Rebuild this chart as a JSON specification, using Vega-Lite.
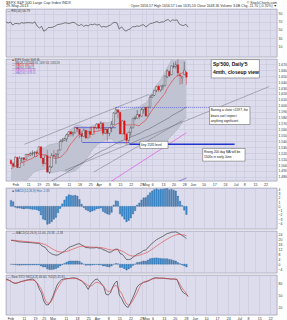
{
"$schema": "https://vega.github.io/schema/vega-lite/v6.json",
"padding": {"left": 4, "right": 0, "top": 0, "bottom": 0},
"background": "#ffffff",
"spacing": 0,
"config": {
  "view": {"fill": "#dcdcec", "stroke": "#8c8ca4", "strokeWidth": 0.6},
  "font": "Liberation Sans",
  "axis": {"labelFontSize": 3.4, "labelColor": "#333333", "ticks": false, "domain": false, "gridColor": "#c4c4d8", "gridWidth": 0.5, "labelPadding": 1},
  "concat": {"spacing": 0}
},
"datasets": {
"px": [
{"i":0,"d":"2013-01-30","o":1507.8,"h":1509.9,"l":1501.0,"c":1502.0,"ma":1493.5,"bu":1503,"bl":1455,"m50":1438,"rsi":70,"mh":1.4,"m":19.6,"s":19.7,"h2":-0.1,"k":90,"sd":88},
{"i":1,"d":"2013-01-31","o":1502.0,"h":1504.2,"l":1496.8,"c":1498.1,"ma":1496.0,"bu":1504.5,"bl":1456.5,"m50":1440,"rsi":67,"mh":1.1,"m":19.3,"s":19.6,"h2":-0.3,"k":88,"sd":87},
{"i":2,"d":"2013-02-01","o":1498.1,"h":1514.4,"l":1498.1,"c":1513.2,"ma":1499.3,"bu":1506.5,"bl":1458.5,"m50":1441,"rsi":70,"mh":-0.2,"m":19.1,"s":19.5,"h2":-0.4,"k":85,"sd":85},
{"i":3,"d":"2013-02-04","o":1513.2,"h":1513.2,"l":1495.0,"c":1495.7,"ma":1500.2,"bu":1507,"bl":1461,"m50":1443,"rsi":62,"mh":-0.4,"m":18.6,"s":19.3,"h2":-0.7,"k":81,"sd":82},
{"i":4,"d":"2013-02-05","o":1495.7,"h":1514.9,"l":1495.7,"c":1511.3,"ma":1502.1,"bu":1508,"bl":1464,"m50":1444,"rsi":66,"mh":-0.4,"m":18.3,"s":19.1,"h2":-0.8,"k":79,"sd":80},
{"i":5,"d":"2013-02-06","o":1511.3,"h":1512.5,"l":1504.7,"c":1512.1,"ma":1503.8,"bu":1509,"bl":1467,"m50":1446,"rsi":66,"mh":-0.5,"m":18.2,"s":18.9,"h2":-0.7,"k":80,"sd":80},
{"i":6,"d":"2013-02-07","o":1512.1,"h":1512.9,"l":1498.5,"c":1509.4,"ma":1505.3,"bu":1510,"bl":1470,"m50":1448,"rsi":65,"mh":-0.6,"m":18.0,"s":18.7,"h2":-0.7,"k":82,"sd":82},
{"i":7,"d":"2013-02-08","o":1509.4,"h":1518.3,"l":1509.4,"c":1517.9,"ma":1506.8,"bu":1512,"bl":1474,"m50":1450,"rsi":68,"mh":-0.5,"m":18.0,"s":18.6,"h2":-0.6,"k":84,"sd":84},
{"i":8,"d":"2013-02-11","o":1517.9,"h":1518.3,"l":1513.6,"c":1517.0,"ma":1508.5,"bu":1514,"bl":1478,"m50":1451,"rsi":67,"mh":-0.5,"m":17.8,"s":18.4,"h2":-0.6,"k":85,"sd":85},
{"i":9,"d":"2013-02-12","o":1517.0,"h":1522.3,"l":1515.6,"c":1519.4,"ma":1509.6,"bu":1517,"bl":1481,"m50":1453,"rsi":68,"mh":-0.6,"m":17.7,"s":18.3,"h2":-0.6,"k":87,"sd":86},
{"i":10,"d":"2013-02-13","o":1519.4,"h":1524.7,"l":1515.9,"c":1520.3,"ma":1511.4,"bu":1519.5,"bl":1485.5,"m50":1455,"rsi":68,"mh":-0.7,"m":17.5,"s":18.1,"h2":-0.6,"k":88,"sd":87},
{"i":11,"d":"2013-02-14","o":1520.3,"h":1523.1,"l":1514.0,"c":1521.4,"ma":1513.8,"bu":1521.9,"bl":1487.9,"m50":1457,"rsi":68,"mh":-0.7,"m":17.3,"s":17.9,"h2":-0.6,"k":89,"sd":87},
{"i":12,"d":"2013-02-15","o":1521.4,"h":1524.2,"l":1514.1,"c":1519.8,"ma":1514.4,"bu":1523.8,"bl":1489.8,"m50":1459,"rsi":67,"mh":-0.8,"m":17.1,"s":17.7,"h2":-0.6,"k":90,"sd":87},
{"i":13,"d":"2013-02-19","o":1519.8,"h":1530.9,"l":1519.8,"c":1530.9,"ma":1518.0,"bu":1527.1,"bl":1491.1,"m50":1461,"rsi":70,"mh":-1.0,"m":17.1,"s":17.6,"h2":-0.5,"k":86,"sd":86},
{"i":14,"d":"2013-02-20","o":1530.9,"h":1530.9,"l":1511.4,"c":1511.9,"ma":1518.0,"bu":1528.1,"bl":1492.1,"m50":1463,"rsi":60,"mh":-2.0,"m":15.8,"s":17.2,"h2":-1.4,"k":79,"sd":80},
{"i":15,"d":"2013-02-21","o":1511.9,"h":1511.9,"l":1497.3,"c":1502.4,"ma":1517.0,"bu":1528.4,"bl":1492.4,"m50":1465,"rsi":55,"mh":-3.0,"m":14.5,"s":16.7,"h2":-2.2,"k":65,"sd":72},
{"i":16,"d":"2013-02-22","o":1502.4,"h":1515.6,"l":1502.4,"c":1515.6,"ma":1517.7,"bu":1529.5,"bl":1493.5,"m50":1467,"rsi":59,"mh":-3.2,"m":13.8,"s":16.1,"h2":-2.3,"k":55,"sd":63},
{"i":17,"d":"2013-02-25","o":1515.6,"h":1525.8,"l":1487.9,"c":1487.9,"ma":1514.7,"bu":1532.7,"bl":1488.7,"m50":1469,"rsi":47,"mh":-4.2,"m":11.3,"s":15.1,"h2":-3.8,"k":35,"sd":48},
{"i":18,"d":"2013-02-26","o":1487.9,"h":1498.9,"l":1485.0,"c":1496.9,"ma":1512.7,"bu":1534.6,"bl":1486.6,"m50":1471,"rsi":50,"mh":-4.0,"m":9.6,"s":14.0,"h2":-4.4,"k":26,"sd":33},
{"i":19,"d":"2013-02-27","o":1496.9,"h":1520.1,"l":1494.9,"c":1516.0,"ma":1512.3,"bu":1535.0,"bl":1487.0,"m50":1473,"rsi":56,"mh":-3.6,"m":8.5,"s":12.9,"h2":-4.4,"k":25,"sd":29},
{"i":20,"d":"2013-02-28","o":1516.0,"h":1525.3,"l":1514.5,"c":1514.7,"ma":1511.8,"bu":1535.6,"bl":1487.6,"m50":1475,"rsi":56,"mh":-3.0,"m":7.8,"s":11.9,"h2":-4.1,"k":33,"sd":31},
{"i":21,"d":"2013-03-01","o":1514.7,"h":1520.0,"l":1501.5,"c":1518.2,"ma":1511.4,"bu":1536.6,"bl":1488.6,"m50":1477,"rsi":57,"mh":-2.6,"m":7.4,"s":11.0,"h2":-3.6,"k":45,"sd":40},
{"i":22,"d":"2013-03-04","o":1518.2,"h":1525.3,"l":1512.3,"c":1525.2,"ma":1512.0,"bu":1537.2,"bl":1489.2,"m50":1479,"rsi":59,"mh":-1.5,"m":7.6,"s":10.3,"h2":-2.7,"k":60,"sd":55},
{"i":23,"d":"2013-03-05","o":1525.2,"h":1543.5,"l":1525.2,"c":1539.8,"ma":1512.9,"bu":1540.4,"bl":1490.4,"m50":1481,"rsi":63,"mh":-0.5,"m":8.6,"s":10.0,"h2":-1.4,"k":75,"sd":65},
{"i":24,"d":"2013-03-06","o":1539.8,"h":1545.3,"l":1538.1,"c":1541.5,"ma":1515.8,"bu":1543.9,"bl":1489.9,"m50":1483,"rsi":64,"mh":0.6,"m":9.5,"s":9.9,"h2":-0.4,"k":83,"sd":75},
{"i":25,"d":"2013-03-07","o":1541.5,"h":1545.8,"l":1541.5,"c":1544.3,"ma":1520.0,"bu":1547.5,"bl":1489.5,"m50":1485,"rsi":65,"mh":1.5,"m":10.7,"s":10.1,"h2":0.6,"k":88,"sd":83},
{"i":26,"d":"2013-03-08","o":1544.3,"h":1552.5,"l":1539.2,"c":1551.2,"ma":1523.6,"bu":1552.6,"bl":1488.6,"m50":1487,"rsi":67,"mh":2.3,"m":12.2,"s":10.5,"h2":1.7,"k":90,"sd":88},
{"i":27,"d":"2013-03-11","o":1551.2,"h":1556.3,"l":1547.4,"c":1556.2,"ma":1530.4,"bu":1557.5,"bl":1487.5,"m50":1490,"rsi":68,"mh":2.7,"m":13.6,"s":11.1,"h2":2.5,"k":91,"sd":90},
{"i":28,"d":"2013-03-12","o":1556.2,"h":1556.8,"l":1548.2,"c":1552.5,"ma":1536.0,"bu":1560.3,"bl":1488.3,"m50":1492,"rsi":66,"mh":2.6,"m":14.5,"s":11.8,"h2":2.7,"k":91,"sd":91},
{"i":29,"d":"2013-03-13","o":1552.5,"h":1556.4,"l":1548.3,"c":1554.5,"ma":1539.8,"bu":1563.1,"bl":1489.1,"m50":1494,"rsi":67,"mh":2.5,"m":15.0,"s":12.4,"h2":2.6,"k":92,"sd":91},
{"i":30,"d":"2013-03-14","o":1554.5,"h":1563.3,"l":1554.5,"c":1563.2,"ma":1544.7,"bu":1566.2,"bl":1490.2,"m50":1497,"rsi":69,"mh":2.6,"m":15.8,"s":13.1,"h2":2.7,"k":93,"sd":91},
{"i":31,"d":"2013-03-15","o":1563.2,"h":1563.6,"l":1555.7,"c":1560.7,"ma":1548.9,"bu":1567.2,"bl":1493.2,"m50":1499,"rsi":68,"mh":2.4,"m":16.5,"s":13.8,"h2":2.7,"k":93,"sd":91},
{"i":32,"d":"2013-03-18","o":1560.7,"h":1560.7,"l":1545.1,"c":1552.1,"ma":1551.6,"bu":1566.8,"bl":1496.8,"m50":1501,"rsi":63,"mh":1.6,"m":16.8,"s":14.4,"h2":2.4,"k":91,"sd":91},
{"i":33,"d":"2013-03-19","o":1552.1,"h":1557.3,"l":1538.6,"c":1548.3,"ma":1552.5,"bu":1565.7,"bl":1499.7,"m50":1503,"rsi":61,"mh":0.5,"m":15.8,"s":14.7,"h2":1.1,"k":88,"sd":89},
{"i":34,"d":"2013-03-20","o":1548.3,"h":1561.6,"l":1548.3,"c":1558.7,"ma":1554.2,"bu":1565.0,"bl":1505.0,"m50":1505,"rsi":64,"mh":-0.3,"m":14.7,"s":14.7,"h2":0.0,"k":85,"sd":86},
{"i":35,"d":"2013-03-21","o":1558.7,"h":1558.7,"l":1543.6,"c":1545.8,"ma":1554.3,"bu":1565.2,"bl":1509.2,"m50":1508,"rsi":59,"mh":-0.8,"m":13.6,"s":14.5,"h2":-0.9,"k":80,"sd":82},
{"i":36,"d":"2013-03-22","o":1545.8,"h":1556.9,"l":1545.8,"c":1556.9,"ma":1554.9,"bu":1564.2,"bl":1514.2,"m50":1510,"rsi":62,"mh":-1.0,"m":13.6,"s":14.3,"h2":-0.7,"k":73,"sd":78},
{"i":37,"d":"2013-03-25","o":1556.9,"h":1564.9,"l":1546.2,"c":1551.7,"ma":1554.4,"bu":1564.4,"bl":1520.4,"m50":1512,"rsi":60,"mh":-1.3,"m":13.3,"s":14.1,"h2":-0.8,"k":64,"sd":73},
{"i":38,"d":"2013-03-26","o":1551.7,"h":1564.0,"l":1551.7,"c":1563.8,"ma":1555.6,"bu":1565.8,"bl":1525.8,"m50":1514,"rsi":64,"mh":-1.1,"m":13.4,"s":14.0,"h2":-0.6,"k":75,"sd":72},
{"i":39,"d":"2013-03-27","o":1563.8,"h":1564.1,"l":1551.5,"c":1562.9,"ma":1556.4,"bu":1567.1,"bl":1529.1,"m50":1517,"rsi":63,"mh":-0.9,"m":13.4,"s":13.9,"h2":-0.5,"k":82,"sd":75},
{"i":40,"d":"2013-03-28","o":1562.9,"h":1570.3,"l":1561.1,"c":1569.2,"ma":1557.0,"bu":1568.8,"bl":1532.8,"m50":1519,"rsi":65,"mh":-0.6,"m":13.7,"s":13.9,"h2":-0.2,"k":88,"sd":80},
{"i":41,"d":"2013-04-01","o":1569.2,"h":1570.6,"l":1558.5,"c":1562.2,"ma":1557.2,"bu":1570.0,"bl":1536.0,"m50":1521,"rsi":62,"mh":-0.5,"m":13.1,"s":13.7,"h2":-0.6,"k":90,"sd":82},
{"i":42,"d":"2013-04-02","o":1562.2,"h":1573.7,"l":1562.2,"c":1570.3,"ma":1559.0,"bu":1572.3,"bl":1538.3,"m50":1523,"rsi":64,"mh":-0.4,"m":13.1,"s":13.6,"h2":-0.5,"k":85,"sd":80},
{"i":43,"d":"2013-04-03","o":1570.3,"h":1571.5,"l":1549.8,"c":1553.7,"ma":1559.5,"bu":1572.0,"bl":1540.0,"m50":1525,"rsi":57,"mh":-1.2,"m":11.9,"s":13.3,"h2":-1.4,"k":78,"sd":76},
{"i":44,"d":"2013-04-04","o":1553.7,"h":1562.6,"l":1552.5,"c":1560.0,"ma":1559.7,"bu":1571.9,"bl":1541.9,"m50":1526,"rsi":59,"mh":-1.5,"m":11.4,"s":12.9,"h2":-1.5,"k":71,"sd":71,"pk":1466},
{"i":45,"d":"2013-04-05","o":1560.0,"h":1560.0,"l":1539.5,"c":1553.3,"ma":1560.4,"bu":1571.4,"bl":1543.4,"m50":1528,"rsi":57,"mh":-1.8,"m":10.4,"s":12.4,"h2":-2.0,"k":52,"sd":63,"pk":1468},
{"i":46,"d":"2013-04-08","o":1553.3,"h":1563.1,"l":1548.6,"c":1563.1,"ma":1561.0,"bu":1572.0,"bl":1544.0,"m50":1530,"rsi":60,"mh":-1.9,"m":9.7,"s":11.9,"h2":-2.2,"k":50,"sd":58,"pk":1470.5},
{"i":47,"d":"2013-04-09","o":1563.1,"h":1573.9,"l":1555.4,"c":1568.6,"ma":1562.7,"bu":1573.6,"bl":1543.6,"m50":1532,"rsi":62,"mh":-1.4,"m":10.2,"s":11.6,"h2":-1.4,"k":55,"sd":60,"pk":1473},
{"i":48,"d":"2013-04-10","o":1568.6,"h":1589.1,"l":1568.6,"c":1587.7,"ma":1565.1,"bu":1580.3,"bl":1540.3,"m50":1534,"rsi":67,"mh":0.3,"m":11.5,"s":11.6,"h2":-0.1,"k":70,"sd":67,"pk":1475},
{"i":49,"d":"2013-04-11","o":1587.7,"h":1597.4,"l":1586.2,"c":1593.4,"ma":1568.2,"bu":1587.3,"bl":1537.3,"m50":1536,"rsi":69,"mh":1.3,"m":12.4,"s":11.8,"h2":0.6,"k":80,"sd":74,"pk":1477.5},
{"i":50,"d":"2013-04-12","o":1593.4,"h":1593.4,"l":1579.0,"c":1588.9,"ma":1570.1,"bu":1591.6,"bl":1535.6,"m50":1538,"rsi":67,"mh":1.2,"m":12.2,"s":11.9,"h2":0.3,"k":85,"sd":72,"pk":1480},
{"i":51,"d":"2013-04-15","o":1588.9,"h":1588.9,"l":1552.3,"c":1552.4,"ma":1569.1,"bu":1591.2,"bl":1535.2,"m50":1540,"rsi":52,"mh":-1.8,"m":8.7,"s":11.3,"h2":-2.6,"k":50,"sd":62,"pk":1482},
{"i":52,"d":"2013-04-16","o":1552.4,"h":1575.4,"l":1552.4,"c":1574.6,"ma":1569.6,"bu":1592.3,"bl":1536.3,"m50":1541,"rsi":58,"mh":-2.3,"m":8.1,"s":10.7,"h2":-2.6,"k":42,"sd":55,"pk":1484.5},
{"i":53,"d":"2013-04-17","o":1574.6,"h":1574.6,"l":1543.7,"c":1552.0,"ma":1569.4,"bu":1592.5,"bl":1536.5,"m50":1543,"rsi":51,"mh":-3.0,"m":6.1,"s":9.8,"h2":-3.7,"k":30,"sd":42,"pk":1487},
{"i":54,"d":"2013-04-18","o":1552.0,"h":1554.4,"l":1536.0,"c":1541.6,"ma":1567.6,"bu":1593.6,"bl":1533.6,"m50":1544,"rsi":47,"mh":-3.6,"m":3.8,"s":8.6,"h2":-4.8,"k":22,"sd":30,"pk":1489},
{"i":55,"d":"2013-04-19","o":1541.6,"h":1555.9,"l":1539.4,"c":1555.3,"ma":1567.8,"bu":1594.1,"bl":1534.1,"m50":1546,"rsi":51,"mh":-3.3,"m":3.7,"s":7.6,"h2":-3.9,"k":19,"sd":25,"pk":1491.5},
{"i":56,"d":"2013-04-22","o":1555.3,"h":1565.6,"l":1548.2,"c":1562.5,"ma":1567.7,"bu":1594.4,"bl":1534.4,"m50":1547,"rsi":53,"mh":-2.7,"m":4.2,"s":6.9,"h2":-2.7,"k":30,"sd":27,"pk":1494},
{"i":57,"d":"2013-04-23","o":1562.5,"h":1579.6,"l":1562.5,"c":1578.8,"ma":1568.7,"bu":1595.7,"bl":1535.7,"m50":1549,"rsi":58,"mh":-1.8,"m":5.7,"s":6.7,"h2":-1.0,"k":42,"sd":35,"pk":1496},
{"i":58,"d":"2013-04-24","o":1578.8,"h":1583.0,"l":1575.8,"c":1579.3,"ma":1567.8,"bu":1596.5,"bl":1536.5,"m50":1550,"rsi":58,"mh":-1.0,"m":6.9,"s":6.7,"h2":0.2,"k":55,"sd":45,"pk":1498.5},
{"i":59,"d":"2013-04-25","o":1578.8,"h":1592.6,"l":1578.8,"c":1585.2,"ma":1567.0,"bu":1597.6,"bl":1537.6,"m50":1552,"rsi":60,"mh":0.3,"m":8.3,"s":7.0,"h2":1.3,"k":70,"sd":55,"pk":1501},
{"i":60,"d":"2013-04-26","o":1585.2,"h":1585.8,"l":1577.6,"c":1582.2,"ma":1566.3,"bu":1598.2,"bl":1538.2,"m50":1553,"rsi":59,"mh":0.8,"m":9.0,"s":7.4,"h2":1.6,"k":76,"sd":68,"pk":1503},
{"i":61,"d":"2013-04-29","o":1582.3,"h":1596.7,"l":1582.3,"c":1593.6,"ma":1570.5,"bu":1600.8,"bl":1538.8,"m50":1555,"rsi":62,"mh":1.5,"m":10.0,"s":7.9,"h2":2.1,"k":79,"sd":78,"pk":1505.5},
{"i":62,"d":"2013-04-30","o":1593.6,"h":1597.6,"l":1587.0,"c":1597.6,"ma":1572.8,"bu":1603.2,"bl":1539.2,"m50":1557,"rsi":63,"mh":2.0,"m":11.3,"s":8.6,"h2":2.7,"k":82,"sd":82,"pk":1508},
{"i":63,"d":"2013-05-01","o":1597.6,"h":1597.6,"l":1581.3,"c":1582.7,"ma":1575.8,"bu":1604.6,"bl":1540.6,"m50":1559,"rsi":57,"mh":2.1,"m":11.7,"s":9.2,"h2":2.5,"k":83,"sd":84,"pk":1510},
{"i":64,"d":"2013-05-02","o":1582.8,"h":1598.6,"l":1582.8,"c":1597.6,"ma":1581.4,"bu":1608.5,"bl":1540.5,"m50":1560,"rsi":62,"mh":2.6,"m":13.4,"s":10.0,"h2":3.4,"k":85,"sd":86,"pk":1512.5},
{"i":65,"d":"2013-05-03","o":1597.6,"h":1618.5,"l":1597.6,"c":1614.4,"ma":1587.3,"bu":1615.6,"bl":1539.6,"m50":1562,"rsi":66,"mh":3.2,"m":15.6,"s":11.1,"h2":4.5,"k":88,"sd":88,"pk":1515},
{"i":66,"d":"2013-05-06","o":1614.4,"h":1619.8,"l":1614.2,"c":1617.5,"ma":1592.8,"bu":1622.3,"bl":1538.3,"m50":1564,"rsi":67,"mh":3.6,"m":17.1,"s":12.3,"h2":4.8,"k":91,"sd":90,"pk":1517},
{"i":67,"d":"2013-05-07","o":1617.5,"h":1626.0,"l":1616.6,"c":1626.0,"ma":1597.6,"bu":1629.1,"bl":1537.1,"m50":1566,"rsi":69,"mh":3.9,"m":18.6,"s":13.6,"h2":5.0,"k":93,"sd":91,"pk":1519.5},
{"i":68,"d":"2013-05-08","o":1626.0,"h":1632.8,"l":1622.7,"c":1632.7,"ma":1603.0,"bu":1635.4,"bl":1535.4,"m50":1568,"rsi":71,"mh":4.1,"m":20.1,"s":14.9,"h2":5.2,"k":93,"sd":92,"pk":1522},
{"i":69,"d":"2013-05-09","o":1632.7,"h":1635.0,"l":1623.1,"c":1626.7,"ma":1607.1,"bu":1639.1,"bl":1535.1,"m50":1570,"rsi":68,"mh":3.9,"m":21.0,"s":16.1,"h2":4.9,"k":92,"sd":92,"pk":1524},
{"i":70,"d":"2013-05-10","o":1626.7,"h":1633.7,"l":1623.7,"c":1633.7,"ma":1612.3,"bu":1644.3,"bl":1534.3,"m50":1572,"rsi":70,"mh":4.0,"m":22.0,"s":17.3,"h2":4.7,"k":92,"sd":92,"pk":1526.5},
{"i":71,"d":"2013-05-13","o":1632.1,"h":1636.0,"l":1626.7,"c":1633.8,"ma":1616.3,"bu":1650.4,"bl":1536.4,"m50":1574,"rsi":70,"mh":4.0,"m":22.9,"s":18.4,"h2":4.5,"k":92,"sd":92,"pk":1529},
{"i":72,"d":"2013-05-14","o":1633.8,"h":1651.1,"l":1633.8,"c":1650.3,"ma":1621.5,"bu":1657.2,"bl":1537.2,"m50":1576,"rsi":74,"mh":4.1,"m":24.0,"s":19.5,"h2":4.5,"k":91,"sd":91,"pk":1531},
{"i":73,"d":"2013-05-15","o":1649.1,"h":1661.5,"l":1646.7,"c":1658.8,"ma":1629.2,"bu":1664.5,"bl":1540.5,"m50":1578,"rsi":76,"mh":4.2,"m":25.1,"s":20.6,"h2":4.5,"k":91,"sd":91,"pk":1533.5},
{"i":74,"d":"2013-05-16","o":1658.1,"h":1660.5,"l":1648.6,"c":1650.5,"ma":1634.4,"bu":1669.9,"bl":1545.9,"m50":1580,"rsi":71,"mh":3.9,"m":25.5,"s":21.6,"h2":3.9,"k":90,"sd":90,"pk":1536},
{"i":75,"d":"2013-05-17","o":1652.4,"h":1667.5,"l":1652.4,"c":1667.5,"ma":1639.8,"bu":1677.5,"bl":1549.5,"m50":1583,"rsi":75,"mh":4.0,"m":26.2,"s":22.5,"h2":3.7,"k":90,"sd":90,"pk":1538},
{"i":76,"d":"2013-05-20","o":1665.7,"h":1672.8,"l":1663.5,"c":1666.3,"ma":1644.6,"bu":1683.7,"bl":1553.7,"m50":1585,"rsi":74,"mh":3.8,"m":26.3,"s":23.3,"h2":3.0,"k":90,"sd":89,"pk":1540.5,"vl":1469},
{"i":77,"d":"2013-05-21","o":1666.2,"h":1674.9,"l":1662.7,"c":1669.2,"ma":1649.0,"bu":1689.3,"bl":1557.3,"m50":1587,"rsi":75,"mh":3.6,"m":26.5,"s":23.9,"h2":2.6,"k":89,"sd":88,"pk":1543,"vl":1470.5},
{"i":78,"d":"2013-05-22","o":1669.4,"h":1687.2,"l":1648.9,"c":1655.4,"ma":1651.2,"bu":1693.1,"bl":1561.1,"m50":1589,"rsi":65,"mh":2.4,"m":25.7,"s":24.3,"h2":1.4,"k":74,"sd":80,"pk":1545,"vl":1472},
{"i":79,"d":"2013-05-23","o":1651.6,"h":1655.5,"l":1635.5,"c":1650.5,"ma":1653.6,"bu":1694.4,"bl":1566.4,"m50":1591,"rsi":62,"mh":1.2,"m":24.8,"s":24.4,"h2":0.4,"k":62,"sd":70,"pk":1547.5,"vl":1473.5},
{"i":80,"d":"2013-05-24","o":1646.7,"h":1649.8,"l":1636.9,"c":1649.6,"ma":1655.2,"bu":1695.7,"bl":1571.7,"m50":1593,"rsi":61,"mh":0.2,"m":23.5,"s":24.2,"h2":-0.7,"k":55,"sd":62,"pk":1550,"vl":1475},
{"i":81,"d":"2013-05-28","o":1652.6,"h":1674.2,"l":1652.6,"c":1660.1,"ma":1657.8,"bu":1697.0,"bl":1577.0,"m50":1596,"rsi":64,"mh":-0.9,"m":22.5,"s":23.9,"h2":-1.4,"k":52,"sd":55,"pk":1552,"vl":1476.5},
{"i":82,"d":"2013-05-29","o":1656.6,"h":1656.6,"l":1635.4,"c":1648.4,"ma":1657.6,"bu":1697.6,"bl":1581.6,"m50":1598,"rsi":57,"mh":-1.9,"m":21.0,"s":23.3,"h2":-2.3,"k":47,"sd":46,"pk":1554.5,"vl":1478}
],
"ln": [
{"g":"t1","i":6.3,"p":1535},{"g":"t1","i":64.4,"p":1619},
{"g":"t2","i":25.2,"p":1491},{"g":"t2","i":120.7,"p":1632.5},
{"g":"t4","i":38.7,"p":1488},{"g":"t4","i":80,"p":1575},
{"g":"b1","i":29.7,"p":1563},{"g":"b1","i":49,"p":1563},
{"g":"b3","i":33.3,"p":1538},{"g":"b3","i":55.4,"p":1538},
{"g":"b2","i":49,"p":1597},{"g":"b2","i":92.8,"p":1597},
{"g":"b4","i":55.4,"p":1535},{"g":"b4","i":104.5,"p":1535}
],
"bx": [
{"b":1,"i":93.6,"i2":116.1,"p":1678,"p2":1647},
{"b":2,"i":92.8,"i2":111.7,"p":1598.6,"p2":1568.4},
{"b":3,"i":60.3,"i2":73.4,"p":1540,"p2":1528},
{"b":4,"i":89.6,"i2":109.4,"p":1528,"p2":1506.5}
],
"tx": [
{"pn":"rsi","grp":"hl","i":0,"p":118,"t":"$SPX S&P 500 Large Cap Index INDX"},
{"pn":"rsi","grp":"hl","i":0,"p":108.5,"t":"29-May-2013"},
{"pn":"rsi","grp":"hr","i":122,"p":118,"t":"© StockCharts.com"},
{"pn":"rsi","grp":"hr","i":122,"p":108.5,"t":"Open 1656.57  High 1656.57  Low 1635.53  Close 1648.36  Volume 3.6B  Chg -11.70 (-0.70%) ▼"},
{"pn":"rsi","grp":"lg","ck":"a","i":0.6,"p":97,"t":"— RSI(14) 56.79"},
{"pn":"main","grp":"b1","i":94.4,"p":1670.5,"t":"Sp'500, Daily'5"},
{"pn":"main","grp":"b1","i":94.4,"p":1656.5,"t":"4mth, closeup view"},
{"pn":"main","grp":"bs","i":93.4,"p":1592.5,"t":"Barring a close <1597, the"},
{"pn":"main","grp":"bs","i":93.4,"p":1583.5,"t":"bears can't expect"},
{"pn":"main","grp":"bs","i":93.4,"p":1574.5,"t":"anything significant."},
{"pn":"main","grp":"bs","i":60.9,"p":1534,"t":"key 1535 level"},
{"pn":"main","grp":"bs","i":90.2,"p":1521.5,"t":"Rising 200 day MA will be"},
{"pn":"main","grp":"bs","i":90.2,"p":1513,"t":"1500s in early June"},
{"pn":"main","grp":"lg","ck":"a","i":0.6,"p":1676.5,"t":"■ $SPX (Daily) 1648.36"},
{"pn":"main","grp":"lg","ck":"a","i":0.6,"p":1672.3,"t":"— BB(20,2.0) 1639.61, 1697.63, 1581.59"},
{"pn":"main","grp":"lg","ck":"r","i":0.6,"p":1668.1,"t":"— MA(10) 1657.58"},
{"pn":"main","grp":"lg","ck":"b","i":0.6,"p":1663.9,"t":"— MA(50) 1598.12"},
{"pn":"main","grp":"lg","ck":"m","i":0.6,"p":1659.7,"t":"— MA(100) 1554.48"},
{"pn":"main","grp":"lg","ck":"v","i":0.6,"p":1655.5,"t":"— MA(200) 1478.05"},
{"pn":"c","grp":"lg","ck":"c","i":0.6,"p":3.6,"t":"■ MACD(12,26,9) Hist -2.33"},
{"pn":"d","grp":"lg","ck":"a","i":0.6,"p":25.4,"t":"— MACD(12,26,9) 21.00, 23.33, -2.33"},
{"pn":"s","grp":"lg","ck":"a","i":0.6,"p":95,"t":"— Slow STO %K(14,3) 46.60, %D(3) 45.91"}
]
},
"vconcat": [
{
 "width": 271, "height": 48,
 "encoding": {"x": {"field": "i", "type": "quantitative", "scale": {"domain": [0, 122], "nice": false, "zero": false}, "axis": {"values": [2,8,13,17,21,27,32,37,41,46,51,56,61,63,66,71,76,81,85,90,95,100,105,109,114,119], "labels": false, "grid": true, "title": null}}},
 "layer": [
  {"data": {"values": [{"v": 70}, {"v": 30}]}, "mark": {"type": "rule", "color": "#8e8ea8", "strokeWidth": 0.8},
   "encoding": {"x": {"datum": 0}, "x2": {"datum": 122}, "y": {"field": "v", "type": "quantitative", "scale": {"domain": [-17, 102], "nice": false, "zero": false}, "axis": {"orient": "right", "values": [10,30,50,70,90], "grid": true, "title": null}}}},
  {"data": {"name": "px"}, "mark": {"type": "line", "color": "#333333", "strokeWidth": 0.6},
   "encoding": {"y": {"field": "rsi", "type": "quantitative", "scale": {"domain": [-17, 102], "nice": false, "zero": false}, "axis": {"orient": "right", "values": [10,30,50,70,90], "grid": true, "title": null}}}},
  {"data": {"name": "tx"}, "transform": [{"filter": "datum.pn == 'rsi' && datum.grp == 'hl'"}], "mark": {"type": "text", "align": "left", "baseline": "middle", "fontSize": 3.8, "color": "#333333", "clip": false},
   "encoding": {"y": {"field": "p", "type": "quantitative", "scale": {"domain": [-17, 102], "nice": false, "zero": false}, "axis": {"orient": "right", "values": [10,30,50,70,90], "grid": true, "title": null}}, "text": {"field": "t"}}},
  {"data": {"name": "tx"}, "transform": [{"filter": "datum.pn == 'rsi' && datum.grp == 'hr'"}], "mark": {"type": "text", "align": "right", "baseline": "middle", "fontSize": 3.5, "color": "#333333", "clip": false},
   "encoding": {"y": {"field": "p", "type": "quantitative", "scale": {"domain": [-17, 102], "nice": false, "zero": false}, "axis": {"orient": "right", "values": [10,30,50,70,90], "grid": true, "title": null}}, "text": {"field": "t"}}},
  {"data": {"name": "tx"}, "transform": [{"filter": "datum.pn == 'rsi' && datum.grp == 'lg'"}], "mark": {"type": "text", "align": "left", "baseline": "middle", "fontSize": 3, "color": "#333333"},
   "encoding": {"y": {"field": "p", "type": "quantitative", "scale": {"domain": [-17, 102], "nice": false, "zero": false}, "axis": {"orient": "right", "values": [10,30,50,70,90], "grid": true, "title": null}}, "text": {"field": "t"}}}
 ]
},
{
 "width": 271, "height": 122,
 "encoding": {"x": {"field": "i", "type": "quantitative", "scale": {"domain": [0, 122], "nice": false, "zero": false}, "axis": {"values": [2,8,13,17,21,27,32,37,41,46,51,56,61,63,66,71,76,81,85,90,95,100,105,109,114,119], "labelExpr": "['Feb','11','19','25','Mar','11','18','25','Apr','8','15','22','29','May','6','13','20','28','Jun','10','17','24','Jul','8','15','22'][indexof([2,8,13,17,21,27,32,37,41,46,51,56,61,63,66,71,76,81,85,90,95,100,105,109,114,119], datum.value)]", "labelOverlap": false, "labelFlush": false, "labelFontSize": 3.6, "grid": true, "title": null}}},
 "layer": [
  {"data": {"name": "px"}, "mark": {"type": "area", "color": "#c0c3d2", "clip": true},
   "encoding": {"y": {"field": "bl", "type": "quantitative", "scale": {"domain": [1473, 1679], "nice": false, "zero": false}, "axis": {"orient": "right", "values": [1480,1490,1500,1510,1520,1530,1540,1550,1560,1570,1580,1590,1600,1610,1620,1630,1640,1650,1660,1670], "grid": true, "title": null}}, "y2": {"field": "bu"}}},
  {"data": {"name": "px"}, "mark": {"type": "line", "color": "#9fa2b4", "strokeWidth": 0.4, "clip": true},
   "encoding": {"y": {"field": "bu", "type": "quantitative", "scale": {"domain": [1473, 1679], "nice": false, "zero": false}, "axis": {"orient": "right", "values": [1480,1490,1500,1510,1520,1530,1540,1550,1560,1570,1580,1590,1600,1610,1620,1630,1640,1650,1660,1670], "grid": true, "title": null}}}},
  {"data": {"name": "px"}, "mark": {"type": "line", "color": "#9fa2b4", "strokeWidth": 0.4, "clip": true},
   "encoding": {"y": {"field": "bl", "type": "quantitative", "scale": {"domain": [1473, 1679], "nice": false, "zero": false}, "axis": {"orient": "right", "values": [1480,1490,1500,1510,1520,1530,1540,1550,1560,1570,1580,1590,1600,1610,1620,1630,1640,1650,1660,1670], "grid": true, "title": null}}}},
  {"data": {"name": "ln"}, "transform": [{"filter": "datum.g == 't1' || datum.g == 't2' || datum.g == 't4'"}], "mark": {"type": "line", "color": "#6f6f7f", "strokeWidth": 0.5, "clip": true},
   "encoding": {"y": {"field": "p", "type": "quantitative", "scale": {"domain": [1473, 1679], "nice": false, "zero": false}, "axis": {"orient": "right", "values": [1480,1490,1500,1510,1520,1530,1540,1550,1560,1570,1580,1590,1600,1610,1620,1630,1640,1650,1660,1670], "grid": true, "title": null}}, "detail": {"field": "g"}}},
  {"data": {"name": "px"}, "mark": {"type": "line", "color": "#555566", "strokeWidth": 0.5, "clip": true},
   "encoding": {"y": {"field": "m50", "type": "quantitative", "scale": {"domain": [1473, 1679], "nice": false, "zero": false}, "axis": {"orient": "right", "values": [1480,1490,1500,1510,1520,1530,1540,1550,1560,1570,1580,1590,1600,1610,1620,1630,1640,1650,1660,1670], "grid": true, "title": null}}}},
  {"data": {"name": "px"}, "mark": {"type": "line", "color": "#e050e0", "strokeWidth": 0.7, "clip": true},
   "encoding": {"y": {"field": "pk", "type": "quantitative", "scale": {"domain": [1473, 1679], "nice": false, "zero": false}, "axis": {"orient": "right", "values": [1480,1490,1500,1510,1520,1530,1540,1550,1560,1570,1580,1590,1600,1610,1620,1630,1640,1650,1660,1670], "grid": true, "title": null}}}},
  {"data": {"name": "px"}, "mark": {"type": "line", "color": "#7766cc", "strokeWidth": 0.8, "clip": true},
   "encoding": {"y": {"field": "vl", "type": "quantitative", "scale": {"domain": [1473, 1679], "nice": false, "zero": false}, "axis": {"orient": "right", "values": [1480,1490,1500,1510,1520,1530,1540,1550,1560,1570,1580,1590,1600,1610,1620,1630,1640,1650,1660,1670], "grid": true, "title": null}}}},
  {"data": {"name": "px"}, "mark": {"type": "line", "color": "#e03030", "strokeWidth": 0.6, "clip": true},
   "encoding": {"y": {"field": "ma", "type": "quantitative", "scale": {"domain": [1473, 1679], "nice": false, "zero": false}, "axis": {"orient": "right", "values": [1480,1490,1500,1510,1520,1530,1540,1550,1560,1570,1580,1590,1600,1610,1620,1630,1640,1650,1660,1670], "grid": true, "title": null}}}},
  {"data": {"name": "ln"}, "transform": [{"filter": "datum.g == 'b1' || datum.g == 'b3'"}], "mark": {"type": "line", "color": "#4a55dd", "strokeWidth": 0.8, "clip": true},
   "encoding": {"y": {"field": "p", "type": "quantitative", "scale": {"domain": [1473, 1679], "nice": false, "zero": false}, "axis": {"orient": "right", "values": [1480,1490,1500,1510,1520,1530,1540,1550,1560,1570,1580,1590,1600,1610,1620,1630,1640,1650,1660,1670], "grid": true, "title": null}}, "detail": {"field": "g"}}},
  {"data": {"name": "ln"}, "transform": [{"filter": "datum.g == 'b2'"}], "mark": {"type": "line", "color": "#4a55dd", "strokeWidth": 0.7, "strokeDash": [1, 1], "clip": true},
   "encoding": {"y": {"field": "p", "type": "quantitative", "scale": {"domain": [1473, 1679], "nice": false, "zero": false}, "axis": {"orient": "right", "values": [1480,1490,1500,1510,1520,1530,1540,1550,1560,1570,1580,1590,1600,1610,1620,1630,1640,1650,1660,1670], "grid": true, "title": null}}}},
  {"data": {"name": "ln"}, "transform": [{"filter": "datum.g == 'b4'"}], "mark": {"type": "line", "color": "#2233cc", "strokeWidth": 1.5, "clip": true},
   "encoding": {"y": {"field": "p", "type": "quantitative", "scale": {"domain": [1473, 1679], "nice": false, "zero": false}, "axis": {"orient": "right", "values": [1480,1490,1500,1510,1520,1530,1540,1550,1560,1570,1580,1590,1600,1610,1620,1630,1640,1650,1660,1670], "grid": true, "title": null}}}},
  {"data": {"name": "px"}, "mark": {"type": "rule", "strokeWidth": 0.4, "clip": true},
   "encoding": {"y": {"field": "l", "type": "quantitative", "scale": {"domain": [1473, 1679], "nice": false, "zero": false}, "axis": {"orient": "right", "values": [1480,1490,1500,1510,1520,1530,1540,1550,1560,1570,1580,1590,1600,1610,1620,1630,1640,1650,1660,1670], "grid": true, "title": null}}, "y2": {"field": "h"},
    "color": {"condition": {"test": "datum.c < datum.o", "value": "#dd1111"}, "value": "#111111"}}},
  {"data": {"name": "px"}, "mark": {"type": "bar", "width": 1.5, "strokeWidth": 0.35, "clip": true},
   "encoding": {"y": {"field": "o", "type": "quantitative", "scale": {"domain": [1473, 1679], "nice": false, "zero": false}, "axis": {"orient": "right", "values": [1480,1490,1500,1510,1520,1530,1540,1550,1560,1570,1580,1590,1600,1610,1620,1630,1640,1650,1660,1670], "grid": true, "title": null}}, "y2": {"field": "c"},
    "fill": {"condition": {"test": "datum.c < datum.o", "value": "#dd1111"}, "value": "#f2f2f8"},
    "stroke": {"condition": {"test": "datum.c < datum.o", "value": "#dd1111"}, "value": "#111111"}}},
  {"data": {"name": "bx"}, "mark": {"type": "rect", "fill": "#ffffff", "stroke": "#555555", "strokeWidth": 0.5},
   "encoding": {"x2": {"field": "i2"}, "y": {"field": "p", "type": "quantitative", "scale": {"domain": [1473, 1679], "nice": false, "zero": false}, "axis": {"orient": "right", "values": [1480,1490,1500,1510,1520,1530,1540,1550,1560,1570,1580,1590,1600,1610,1620,1630,1640,1650,1660,1670], "grid": true, "title": null}}, "y2": {"field": "p2"}}},
  {"data": {"name": "tx"}, "transform": [{"filter": "datum.pn == 'main' && datum.grp == 'b1'"}], "mark": {"type": "text", "align": "left", "baseline": "middle", "fontSize": 5, "fontWeight": "bold", "color": "#111111"},
   "encoding": {"y": {"field": "p", "type": "quantitative", "scale": {"domain": [1473, 1679], "nice": false, "zero": false}, "axis": {"orient": "right", "values": [1480,1490,1500,1510,1520,1530,1540,1550,1560,1570,1580,1590,1600,1610,1620,1630,1640,1650,1660,1670], "grid": true, "title": null}}, "text": {"field": "t"}}},
  {"data": {"name": "tx"}, "transform": [{"filter": "datum.pn == 'main' && datum.grp == 'bs'"}], "mark": {"type": "text", "align": "left", "baseline": "middle", "fontSize": 3.2, "color": "#111111"},
   "encoding": {"y": {"field": "p", "type": "quantitative", "scale": {"domain": [1473, 1679], "nice": false, "zero": false}, "axis": {"orient": "right", "values": [1480,1490,1500,1510,1520,1530,1540,1550,1560,1570,1580,1590,1600,1610,1620,1630,1640,1650,1660,1670], "grid": true, "title": null}}, "text": {"field": "t"}}},
  {"data": {"name": "tx"}, "transform": [{"filter": "datum.pn == 'main' && datum.grp == 'lg'"}], "mark": {"type": "text", "align": "left", "baseline": "middle", "fontSize": 2.6},
   "encoding": {"y": {"field": "p", "type": "quantitative", "scale": {"domain": [1473, 1679], "nice": false, "zero": false}, "axis": {"orient": "right", "values": [1480,1490,1500,1510,1520,1530,1540,1550,1560,1570,1580,1590,1600,1610,1620,1630,1640,1650,1660,1670], "grid": true, "title": null}}, "text": {"field": "t"},
    "color": {"field": "ck", "type": "nominal", "scale": {"domain": ["a","r","b","m","v","c"], "range": ["#444444","#dd2222","#555566","#dd44dd","#7766cc","#2266aa"]}, "legend": null}}}
 ]
},
{
 "width": 271, "height": 41,
 "encoding": {"x": {"field": "i", "type": "quantitative", "scale": {"domain": [0, 122], "nice": false, "zero": false}, "axis": {"values": [2,8,13,17,21,27,32,37,41,46,51,56,61,63,66,71,76,81,85,90,95,100,105,109,114,119], "labels": false, "grid": true, "title": null}}},
 "layer": [
  {"data": {"values": [{"v": 0}]}, "mark": {"type": "rule", "color": "#8e8ea8", "strokeWidth": 0.6},
   "encoding": {"x": {"datum": 0}, "x2": {"datum": 122}, "y": {"field": "v", "type": "quantitative", "scale": {"domain": [-5.3, 4.3], "nice": false, "zero": false}, "axis": {"orient": "right", "values": [-4,-3,-2,-1,0,1,2,3,4], "grid": false, "title": null}}}},
  {"data": {"name": "px"}, "mark": {"type": "bar", "width": 1.5, "fill": "#3f8fd2", "stroke": "#1d4f80", "strokeWidth": 0.3, "clip": true},
   "encoding": {"y": {"field": "mh", "type": "quantitative", "scale": {"domain": [-5.3, 4.3], "nice": false, "zero": false}, "axis": {"orient": "right", "values": [-4,-3,-2,-1,0,1,2,3,4], "grid": false, "title": null}}, "y2": {"datum": 0}}},
  {"data": {"name": "tx"}, "transform": [{"filter": "datum.pn == 'c'"}], "mark": {"type": "text", "align": "left", "baseline": "middle", "fontSize": 3, "color": "#2266aa"},
   "encoding": {"y": {"field": "p", "type": "quantitative", "scale": {"domain": [-5.3, 4.3], "nice": false, "zero": false}, "axis": {"orient": "right", "values": [-4,-3,-2,-1,0,1,2,3,4], "grid": false, "title": null}}, "text": {"field": "t"}}}
 ]
},
{
 "width": 271, "height": 42,
 "encoding": {"x": {"field": "i", "type": "quantitative", "scale": {"domain": [0, 122], "nice": false, "zero": false}, "axis": {"values": [2,8,13,17,21,27,32,37,41,46,51,56,61,63,66,71,76,81,85,90,95,100,105,109,114,119], "labels": false, "grid": true, "title": null}}},
 "layer": [
  {"data": {"values": [{"v": 0}]}, "mark": {"type": "rule", "color": "#8e8ea8", "strokeWidth": 0.6},
   "encoding": {"x": {"datum": 0}, "x2": {"datum": 122}, "y": {"field": "v", "type": "quantitative", "scale": {"domain": [-7.2, 27.2], "nice": false, "zero": false}, "axis": {"orient": "right", "values": [-4,0,4,8,12,16,20,24], "grid": false, "title": null}}}},
  {"data": {"name": "px"}, "mark": {"type": "bar", "width": 1.5, "fill": "#3f8fd2", "stroke": "#1d4f80", "strokeWidth": 0.3, "clip": true},
   "encoding": {"y": {"field": "h2", "type": "quantitative", "scale": {"domain": [-7.2, 27.2], "nice": false, "zero": false}, "axis": {"orient": "right", "values": [-4,0,4,8,12,16,20,24], "grid": false, "title": null}}, "y2": {"datum": 0}}},
  {"data": {"name": "px"}, "mark": {"type": "line", "color": "#222222", "strokeWidth": 0.6},
   "encoding": {"y": {"field": "m", "type": "quantitative", "scale": {"domain": [-7.2, 27.2], "nice": false, "zero": false}, "axis": {"orient": "right", "values": [-4,0,4,8,12,16,20,24], "grid": false, "title": null}}}},
  {"data": {"name": "px"}, "mark": {"type": "line", "color": "#e04040", "strokeWidth": 0.6},
   "encoding": {"y": {"field": "s", "type": "quantitative", "scale": {"domain": [-7.2, 27.2], "nice": false, "zero": false}, "axis": {"orient": "right", "values": [-4,0,4,8,12,16,20,24], "grid": false, "title": null}}}},
  {"data": {"name": "tx"}, "transform": [{"filter": "datum.pn == 'd'"}], "mark": {"type": "text", "align": "left", "baseline": "middle", "fontSize": 3, "color": "#444444"},
   "encoding": {"y": {"field": "p", "type": "quantitative", "scale": {"domain": [-7.2, 27.2], "nice": false, "zero": false}, "axis": {"orient": "right", "values": [-4,0,4,8,12,16,20,24], "grid": false, "title": null}}, "text": {"field": "t"}}}
 ]
},
{
 "width": 271, "height": 40,
 "encoding": {"x": {"field": "i", "type": "quantitative", "scale": {"domain": [0, 122], "nice": false, "zero": false}, "axis": {"values": [2,8,13,17,21,27,32,37,41,46,51,56,61,63,66,71,76,81,85,90,95,100,105,109,114,119], "labelExpr": "['Feb','11','19','25','Mar','11','18','25','Apr','8','15','22','29','May','6','13','20','28','Jun','10','17','24','Jul','8','15','22'][indexof([2,8,13,17,21,27,32,37,41,46,51,56,61,63,66,71,76,81,85,90,95,100,105,109,114,119], datum.value)]", "labelOverlap": false, "labelFlush": false, "labelFontSize": 3.6, "grid": true, "title": null}}},
 "layer": [
  {"data": {"values": [{"v": 80}, {"v": 20}]}, "mark": {"type": "rule", "color": "#8e8ea8", "strokeWidth": 0.8},
   "encoding": {"x": {"datum": 0}, "x2": {"datum": 122}, "y": {"field": "v", "type": "quantitative", "scale": {"domain": [0, 100], "nice": false, "zero": false}, "axis": {"orient": "right", "values": [20,50,80], "grid": false, "title": null}}}},
  {"data": {"values": [{"v": 50}]}, "mark": {"type": "rule", "color": "#8e8ea8", "strokeWidth": 0.6, "strokeDash": [2, 1.5]},
   "encoding": {"x": {"datum": 0}, "x2": {"datum": 122}, "y": {"field": "v", "type": "quantitative", "scale": {"domain": [0, 100], "nice": false, "zero": false}, "axis": {"orient": "right", "values": [20,50,80], "grid": false, "title": null}}}},
  {"data": {"name": "px"}, "mark": {"type": "line", "color": "#222222", "strokeWidth": 0.6},
   "encoding": {"y": {"field": "k", "type": "quantitative", "scale": {"domain": [0, 100], "nice": false, "zero": false}, "axis": {"orient": "right", "values": [20,50,80], "grid": false, "title": null}}}},
  {"data": {"name": "px"}, "mark": {"type": "line", "color": "#e04040", "strokeWidth": 0.6},
   "encoding": {"y": {"field": "sd", "type": "quantitative", "scale": {"domain": [0, 100], "nice": false, "zero": false}, "axis": {"orient": "right", "values": [20,50,80], "grid": false, "title": null}}}},
  {"data": {"name": "tx"}, "transform": [{"filter": "datum.pn == 's'"}], "mark": {"type": "text", "align": "left", "baseline": "middle", "fontSize": 3, "color": "#444444"},
   "encoding": {"y": {"field": "p", "type": "quantitative", "scale": {"domain": [0, 100], "nice": false, "zero": false}, "axis": {"orient": "right", "values": [20,50,80], "grid": false, "title": null}}, "text": {"field": "t"}}}
 ]
}
]
}
